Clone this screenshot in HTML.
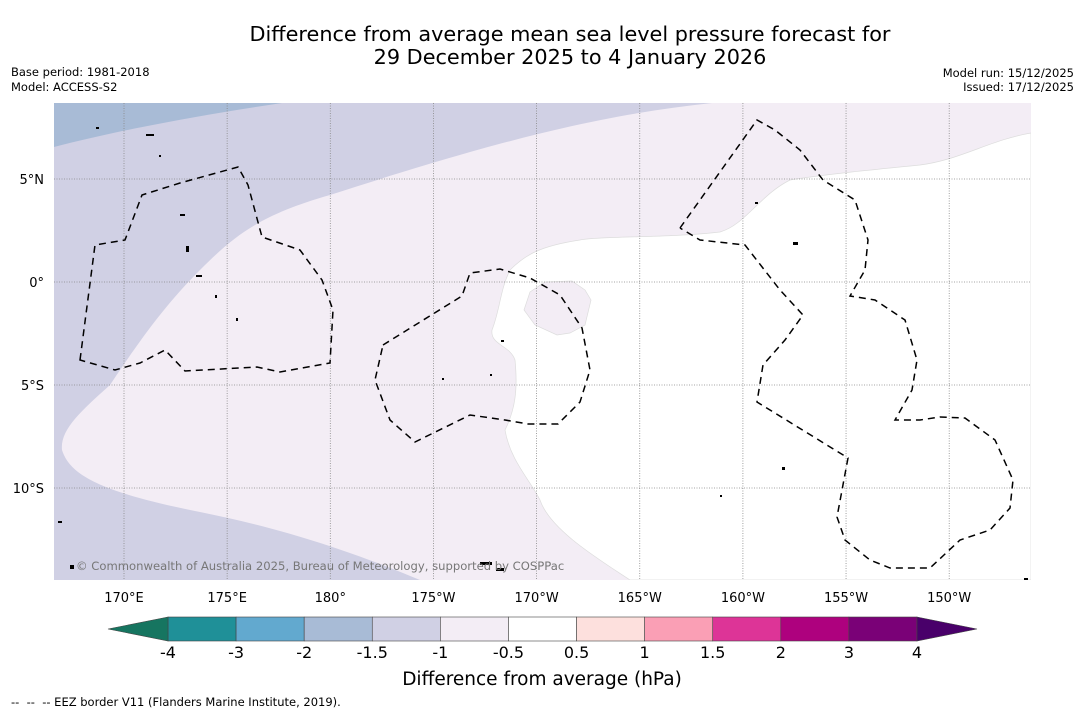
<!DOCTYPE html>
<html><head><meta charset="utf-8">
<style>
body{margin:0;background:#fff;width:1085px;height:713px;overflow:hidden;font-family:"Liberation Sans","DejaVu Sans",sans-serif}
svg text{font-family:"DejaVu Sans","Liberation Sans",sans-serif}
</style></head>
<body>
<svg id="chart" width="1085" height="713" viewBox="0 0 1085 713" xmlns="http://www.w3.org/2000/svg">
<rect width="1085" height="713" fill="#fff"/>
<text x="570" y="41" font-size="20.8" text-anchor="middle" fill="#000">Difference from average mean sea level pressure forecast for</text>
<text x="570" y="64" font-size="20.8" text-anchor="middle" fill="#000">29 December 2025 to 4 January 2026</text>
<text x="11" y="76" font-size="11.5">Base period: 1981-2018</text>
<text x="11" y="91" font-size="11.5">Model: ACCESS-S2</text>
<text x="1074" y="77" font-size="11.5" text-anchor="end">Model run: 15/12/2025</text>
<text x="1074" y="91" font-size="11.5" text-anchor="end">Issued: 17/12/2025</text>
<defs><clipPath id="mapclip"><rect x="54" y="103" width="977" height="477"/></clipPath></defs>
<g id="map" clip-path="url(#mapclip)">
<rect x="54" y="103" width="977" height="477" fill="#f3edf5"/>
<path fill="#d0d0e4" d="M54,103 L712,103 C600,115 500,140 330,195 C260,215 235,235 200,270 C165,305 140,340 110,385 C80,412 60,430 62,450 C70,475 100,492 200,512 C290,530 360,555 420,580 L54,580 Z"/>
<path fill="#a8bbd6" d="M54,103 L282,103 C200,115 120,130 54,147 Z"/>
<path fill="#ffffff" stroke="#ddd" stroke-width="0.7" d="M1031,133 C990,140 960,160 920,165 C870,170 820,175 790,180 C760,195 745,225 720,232 C670,238 600,236 580,240 C540,246 525,255 510,270 C500,290 500,310 492,330 C490,345 510,345 515,360 C518,390 515,410 505,430 C510,460 530,480 540,500 C550,530 600,560 630,580 L1031,580 Z"/>
<path fill="#f3edf5" stroke="#ddd" stroke-width="0.7" d="M545,282 L572,281 L585,290 L591,300 L585,325 L570,333 L557,335 L535,325 L524,310 L530,292 Z"/>
<g id="grid" stroke="#888" stroke-width="0.8" stroke-dasharray="1,1.5"></g>
<g fill="none" stroke="#000" stroke-width="1.5" stroke-dasharray="7,5">
<path d="M80,360 L95,245 L125,240 L142,195 L180,183 L238,167 L248,185 L262,237 L300,250 L322,280 L333,310 L330,363 L280,372 L257,367 L185,371 L165,350 L140,363 L115,370 Z"/>
<path d="M383,345 L462,296 L470,273 L500,269 L530,278 L560,295 L582,328 L590,370 L580,402 L558,424 L528,424 L505,420 L470,415 L415,442 L390,420 L375,380 Z"/>
<path d="M680,228 L757,120 L775,130 L800,150 L823,180 L855,200 L868,240 L865,270 L850,296 L875,300 L905,320 L917,360 L912,390 L895,420 L920,420 L940,417 L965,418 L995,440 L1013,480 L1010,508 L990,530 L960,540 L930,568 L890,568 L870,560 L845,540 L837,517 L848,458 L757,402 L763,365 L785,340 L803,315 L780,290 L745,245 L700,240 L680,228"/>
</g>
<g fill="#000">
<rect x="96" y="127" width="3" height="2"/><rect x="146" y="134" width="8" height="2"/><rect x="159" y="155" width="2" height="2"/><rect x="180" y="214" width="5" height="2"/><rect x="186" y="246" width="3" height="6"/><rect x="196" y="275" width="6" height="2"/><rect x="215" y="295" width="2" height="3"/><rect x="236" y="318" width="2" height="3"/><rect x="501" y="340" width="3" height="2"/><rect x="490" y="374" width="2" height="2"/><rect x="793" y="242" width="5" height="3"/><rect x="755" y="202" width="3" height="2"/><rect x="782" y="467" width="3" height="3"/><rect x="720" y="495" width="2" height="2"/><rect x="58" y="521" width="4" height="2"/><rect x="70" y="565" width="4" height="4"/><rect x="480" y="562" width="12" height="3"/><rect x="496" y="568" width="8" height="3"/><rect x="1024" y="578" width="4" height="2"/><rect x="442" y="378" width="2" height="2"/>
</g>
<text x="76" y="570" font-size="11.6" fill="#777">© Commonwealth of Australia 2025, Bureau of Meteorology, supported by COSPPac</text>
</g>
<g id="axislabels" font-size="13" fill="#000"></g>
<g id="colorbar"></g>
<text x="542" y="685" font-size="18.5" text-anchor="middle">Difference from average (hPa)</text>
<text x="11" y="706" font-size="11.5" xml:space="preserve">--  --  -- EEZ border V11 (Flanders Marine Institute, 2019).</text>
</svg>
<script>
const lonTicks=[170,175,180,-175,-170,-165,-160,-155,-150];
const lonLabels=["170°E","175°E","180°","175°W","170°W","165°W","160°W","155°W","150°W"];
const latTicks=[5,0,-5,-10];
const latLabels=["5°N","0°","5°S","10°S"];
const cbLevels=["-4","-3","-2","-1.5","-1","-0.5","0.5","1","1.5","2","3","4"];
const cbColors=["#1f9098","#62a9cf","#a8bbd6","#d0d0e4","#f3edf5","#ffffff","#fde0dd","#fa9fb5","#dd3497","#ae017e","#7a0177"];
const cbUnder="#167560", cbOver="#49006a";
const NS="http://www.w3.org/2000/svg";
function xLon(l){const e=l<0?l+360:l;return 124+(e-170)*20.63;}
function yLat(l){return 282-l*20.6;}
const grid=document.getElementById('grid'),al=document.getElementById('axislabels');
lonTicks.forEach((l,i)=>{const x=xLon(l);
 const ln=document.createElementNS(NS,'line');ln.setAttribute('x1',x);ln.setAttribute('x2',x);ln.setAttribute('y1',103);ln.setAttribute('y2',580);
 
 grid.appendChild(ln);
 const t=document.createElementNS(NS,'text');t.setAttribute('x',x);t.setAttribute('y',602);t.setAttribute('text-anchor','middle');t.textContent=lonLabels[i];
 
 al.appendChild(t);});
latTicks.forEach((l,i)=>{const y=yLat(l);
 const ln=document.createElementNS(NS,'line');ln.setAttribute('x1',54);ln.setAttribute('x2',1031);ln.setAttribute('y1',y);ln.setAttribute('y2',y);
 
 grid.appendChild(ln);
 const t=document.createElementNS(NS,'text');t.setAttribute('x',44);t.setAttribute('y',y+5);t.setAttribute('text-anchor','end');t.textContent=latLabels[i];
 
 al.appendChild(t);});
const cb=document.getElementById('colorbar');
const x0=168,x1=917,y0=617,h=24,w=(x1-x0)/cbColors.length;
cbColors.forEach((c,i)=>{const r=document.createElementNS(NS,'rect');r.setAttribute('x',x0+i*w);r.setAttribute('y',y0);r.setAttribute('width',w);r.setAttribute('height',h);r.setAttribute('fill',c);r.setAttribute('stroke','#444');r.setAttribute('stroke-width','0.6');
 
 cb.appendChild(r);});
cbLevels.forEach((v,i)=>{const t=document.createElementNS(NS,'text');t.setAttribute('x',x0+i*w);t.setAttribute('y',658);t.setAttribute('text-anchor','middle');t.setAttribute('font-size','16');t.textContent=v;
 
 cb.appendChild(t);});
const pl=document.createElementNS(NS,'polygon');pl.setAttribute('points',`${x0},${y0} 108,${y0+h/2} ${x0},${y0+h}`);pl.setAttribute('fill',cbUnder);pl.setAttribute('stroke','#444');pl.setAttribute('stroke-width','0.6');

cb.appendChild(pl);
const pr=document.createElementNS(NS,'polygon');pr.setAttribute('points',`${x1},${y0} 977,${y0+h/2} ${x1},${y0+h}`);pr.setAttribute('fill',cbOver);pr.setAttribute('stroke','#444');pr.setAttribute('stroke-width','0.6');

cb.appendChild(pr);
</script>
</body></html>
